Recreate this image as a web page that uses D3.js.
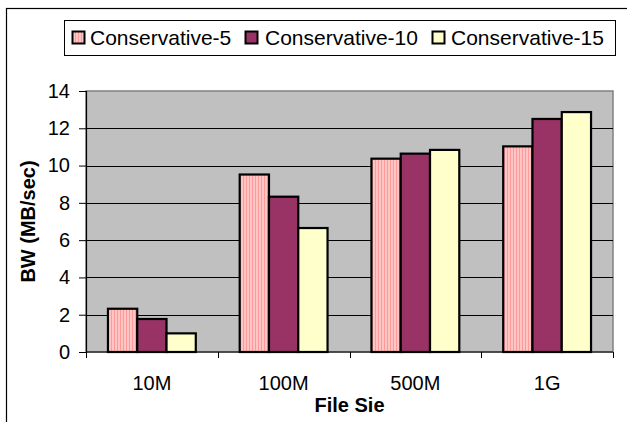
<!DOCTYPE html>
<html>
<head>
<meta charset="utf-8">
<script src="https://cdn.jsdelivr.net/npm/d3@7"></script>
<style>
  html, body { margin: 0; padding: 0; background: #fff; }
  svg { display: block; }
  text { font-family: Arial, "Liberation Sans", sans-serif; fill: #000; }
</style>
</head>
<body>
<svg id="chart" width="627" height="422"></svg>
<script>
const categories = ["10M", "100M", "500M", "1G"];
const seriesNames = ["Conservative-5", "Conservative-10", "Conservative-15"];
const conservative5 = [2.32, 9.52, 10.37, 11.03];
const conservative10 = [1.77, 8.33, 10.64, 12.5];
const conservative15 = [1.0, 6.65, 10.84, 12.87];
const yTicks = [0, 2, 4, 6, 8, 10, 12, 14];
const seriesValues = [conservative5, conservative10, conservative15];
const fills = ["url(#stripes)", "#993366", "#FFFFCC"];

const svg = d3.select("#chart");
const W = 627, H = 422;
const plot = { left: 86, right: 613, top: 91, bottom: 352 };

const defs = svg.append("defs");
const pat = defs.append("pattern").attr("id", "stripes")
  .attr("patternUnits", "userSpaceOnUse").attr("width", 3).attr("height", 4);
pat.append("rect").attr("width", 3).attr("height", 4).attr("fill", "#FFC4C4");
pat.append("rect").attr("width", 1).attr("height", 4).attr("fill", "#FF9A9A");

svg.append("rect").attr("width", W).attr("height", H).attr("fill", "#fff");
// outer chart frame (extends past the picture)
svg.append("rect").attr("x", 6.5).attr("y", 8.5).attr("width", W + 20).attr("height", H + 20)
  .attr("fill", "none").attr("stroke", "#000").attr("stroke-width", 1.2);

const x = d3.scaleBand().domain(categories).range([plot.left, plot.right]).paddingInner(0).paddingOuter(0);
const y = d3.scaleLinear().domain([0, 14]).range([plot.bottom, plot.top]);

// plot background
svg.append("rect").attr("x", plot.left).attr("y", plot.top)
  .attr("width", plot.right - plot.left).attr("height", plot.bottom - plot.top)
  .attr("fill", "#C0C0C0").attr("stroke", "#808080").attr("stroke-width", 1.5);

// gridlines
svg.append("g").selectAll("line").data(yTicks.filter(d => d > 0 && d < 14)).join("line")
  .attr("x1", plot.left).attr("x2", plot.right)
  .attr("y1", d => Math.round(y(d)) + 0.5).attr("y2", d => Math.round(y(d)) + 0.5)
  .attr("stroke", "#000").attr("stroke-width", 1);

// bars
const bw = x.bandwidth() / 4.5;
const groups = svg.append("g");
seriesValues.forEach((vals, si) => {
  groups.append("g").selectAll("rect").data(vals).join("rect")
    .attr("x", (d, i) => x(categories[i]) + bw * 0.75 + si * bw)
    .attr("y", d => y(d))
    .attr("width", bw)
    .attr("height", d => y(0) - y(d))
    .attr("fill", fills[si])
    .attr("stroke", "#000").attr("stroke-width", 2.2);
});

// y axis
const yAxis = d3.axisLeft(y).tickValues(yTicks).tickSize(7).tickPadding(9).tickFormat(d3.format("d"));
const gy = svg.append("g").attr("transform", `translate(${plot.left},0)`).call(yAxis);
gy.select(".domain").attr("stroke", "#000").attr("stroke-width", 1.2);
gy.selectAll(".tick line").attr("stroke", "#000");
gy.selectAll(".tick text").attr("font-size", 20).attr("font-family", 'Arial, "Liberation Sans", sans-serif').attr("fill", "#000");

// x axis: ticks at category boundaries
const gx = svg.append("g").attr("transform", `translate(0,${plot.bottom})`);
gx.append("line").attr("x1", plot.left).attr("x2", plot.right).attr("y1", 0).attr("y2", 0)
  .attr("stroke", "#000").attr("stroke-width", 1.2);
const boundaries = categories.map(c => x(c)).concat([plot.right]);
gx.selectAll("line.tk").data(boundaries).join("line").attr("class", "tk")
  .attr("x1", d => Math.round(d) + 0.5).attr("x2", d => Math.round(d) + 0.5)
  .attr("y1", 0).attr("y2", 6).attr("stroke", "#000");
gx.selectAll("text").data(categories).join("text")
  .attr("x", d => x(d) + x.bandwidth() / 2).attr("y", 38)
  .attr("text-anchor", "middle").attr("font-size", 20).text(d => d);

// axis titles
svg.append("text").attr("x", (plot.left + plot.right) / 2).attr("y", 412)
  .attr("text-anchor", "middle").attr("font-size", 20).attr("font-weight", "bold").text("File Sie");
svg.append("text").attr("transform", `translate(35,${(plot.top + plot.bottom) / 2}) rotate(-90)`)
  .attr("text-anchor", "middle").attr("font-size", 20).attr("font-weight", "bold").text("BW (MB/sec)");

// legend
const lg = svg.append("g");
lg.append("rect").attr("x", 64.5).attr("y", 20.5).attr("width", 551).attr("height", 35)
  .attr("fill", "#fff").attr("stroke", "#000").attr("stroke-width", 1);
const swatchX = [72, 245, 432];
const textX = [90, 265, 451];
seriesNames.forEach((n, i) => {
  lg.append("rect").attr("x", swatchX[i] + 0.5).attr("y", 31.5).attr("width", 12).attr("height", 12)
    .attr("fill", fills[i]).attr("stroke", "#000").attr("stroke-width", 2);
  lg.append("text").attr("x", textX[i]).attr("y", 45).attr("font-size", 21).text(n);
});
</script>
</body>
</html>
